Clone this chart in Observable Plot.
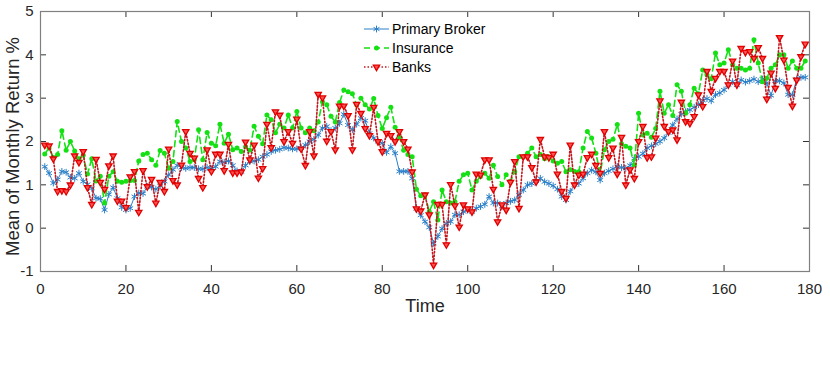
<!DOCTYPE html>
<html>
<head>
<meta charset="utf-8">
<script src="https://cdn.jsdelivr.net/npm/d3@7"></script>
<script src="https://cdn.jsdelivr.net/npm/@observablehq/plot@0.6"></script>
<style>
  html, body { margin: 0; padding: 0; background: white; }
  #wrap { position: relative; width: 830px; height: 367px; }
  #legend { position: absolute; left: 355px; top: 18px; }
</style>
</head>
<body>
<div id="wrap"><div id="chart"></div><div id="legend"></div></div>
<script>
// Time index 1..179
const primaryBroker = [1.42,1.27,1.04,1.12,1.31,1.29,1.17,1.15,1.27,1.08,1.01,0.92,0.69,0.68,0.42,0.78,0.94,0.69,0.48,0.42,
0.46,0.73,0.81,0.80,0.96,0.95,0.90,0.98,1.08,1.23,1.35,1.45,1.40,1.38,1.40,1.40,1.37,1.37,1.40,1.37,
1.42,1.54,1.52,1.55,1.45,1.32,1.30,1.45,1.54,1.55,1.58,1.65,1.70,1.77,1.80,1.82,1.86,1.85,1.83,1.83,
1.85,1.92,2.00,2.05,2.15,2.31,2.35,2.25,2.31,2.42,2.63,2.38,2.27,2.40,2.54,2.48,2.19,2.08,2.00,1.96,
1.75,1.88,1.73,1.31,1.31,1.31,1.15,0.45,0.30,0.15,0.02,-0.35,-0.19,-0.01,0.11,0.15,0.31,0.31,0.38,0.42,
0.38,0.46,0.50,0.55,0.73,0.58,0.58,0.50,0.58,0.62,0.65,0.77,0.88,1.00,1.03,1.09,1.15,1.07,1.03,0.98,
0.90,0.73,0.65,0.85,1.00,1.03,1.15,1.27,1.34,1.30,1.11,1.27,1.32,1.37,1.42,1.40,1.38,1.45,1.61,1.65,
1.72,1.85,1.90,1.95,2.00,2.08,2.20,2.38,2.52,2.63,2.69,2.73,2.79,2.85,2.95,2.99,2.94,3.08,3.12,3.19,
3.31,3.38,3.30,3.42,3.37,3.40,3.44,3.38,3.44,3.35,3.06,3.40,3.40,3.35,3.08,3.08,3.44,3.48,3.48];

const insurance = [1.71,1.85,1.63,1.70,2.25,1.80,2.00,1.78,1.60,1.68,1.25,1.60,1.09,1.20,0.58,1.20,1.30,1.08,1.06,1.08,
1.10,1.10,1.55,1.70,1.73,1.58,1.45,1.79,1.73,1.38,1.54,2.46,2.00,1.85,1.54,1.58,2.27,1.58,2.21,1.96,
1.90,2.40,1.96,2.17,1.81,1.85,1.77,1.88,1.80,2.35,2.12,1.95,2.61,2.50,2.20,2.40,2.31,2.61,2.31,2.69,
2.31,2.20,2.31,2.25,2.45,2.92,2.85,2.58,2.45,2.90,3.19,3.15,3.10,2.85,3.00,2.85,2.75,2.99,2.60,2.30,
2.55,2.79,2.33,2.10,1.80,1.70,1.65,0.90,0.75,0.77,0.38,0.61,0.19,0.88,0.61,0.58,0.61,1.08,1.23,1.27,
0.88,1.08,1.19,1.27,1.15,1.45,1.19,1.00,1.23,1.08,1.30,1.65,1.65,1.73,1.85,1.65,1.70,1.60,1.65,1.55,
1.50,1.54,1.30,1.35,1.31,1.30,1.85,2.23,2.08,1.73,1.27,1.81,2.00,2.05,2.39,1.95,1.89,1.85,1.46,2.65,
2.15,2.19,2.10,2.30,3.16,2.65,2.85,2.60,3.31,3.16,2.65,2.85,3.23,3.10,3.65,3.54,3.45,4.04,3.77,3.81,
4.12,3.77,3.69,3.69,3.65,3.69,4.35,3.81,3.38,3.46,3.69,3.77,4.00,4.00,3.69,3.86,3.69,3.69,3.86];

const banks = [1.92,1.90,1.60,0.85,0.87,0.85,1.00,1.67,1.52,1.77,0.94,0.55,1.59,1.06,0.90,1.44,1.67,0.63,0.63,0.48,
1.19,1.31,0.37,1.33,0.96,1.13,0.58,1.06,0.85,1.83,1.10,1.00,1.46,2.23,1.73,1.62,1.15,0.94,1.81,1.31,
1.71,1.71,1.33,1.94,1.28,1.28,1.30,1.99,1.58,1.92,1.16,1.38,2.40,1.86,2.69,2.61,2.00,2.23,1.96,2.52,
1.83,1.45,2.23,1.67,3.09,3.01,2.01,2.23,1.81,2.82,2.82,2.60,1.81,2.86,2.65,2.30,2.14,2.79,2.00,1.77,
2.19,2.14,2.00,2.23,2.00,1.83,1.30,0.45,0.40,0.77,0.31,-0.85,0.55,0.55,-0.38,1.01,0.52,0.03,0.54,0.45,
0.38,1.25,1.23,1.58,1.58,0.90,0.15,0.54,0.42,1.06,1.54,0.46,1.65,1.65,1.40,1.07,2.05,1.65,1.63,1.71,
1.25,0.85,0.69,1.92,1.00,1.23,1.25,1.63,1.71,1.45,1.27,2.23,1.63,1.85,1.25,2.10,1.00,1.35,1.15,2.00,
2.35,1.63,1.65,2.08,2.94,2.35,2.23,2.27,2.04,2.91,2.46,2.42,2.58,3.08,2.81,3.62,3.16,3.46,3.62,3.62,
3.31,3.86,3.31,4.15,4.06,4.08,3.92,4.17,3.92,2.98,3.58,3.23,4.40,3.88,3.25,2.82,3.42,3.96,4.25];

const xTicks = [0,20,40,60,80,100,120,140,160,180];
const yTicks = [-1,0,1,2,3,4,5];
const seriesNames = ["Primary Broker","Insurance","Banks"];

const data = primaryBroker.map((v, i) => ({t: i + 1, pb: v, ins: insurance[i], bk: banks[i]}));

const BLUE = "#2b7fc7", GREEN = "#14e014", RED_LINE = "#c3161c", RED_FILL = "#ff5050", RED_EDGE = "#e00000";
const AXIS = "#808080";

const downTriangle = {
  draw(context, size) {
    const r = Math.sqrt(size / Math.PI) * 1.3;
    context.moveTo(0, r);
    context.lineTo(-r * 0.866, -r * 0.5);
    context.lineTo(r * 0.866, -r * 0.5);
    context.closePath();
  }
};

const W = 830, H = 367, ML = 40, MR = 21, MT = 11, MB = 96;
const fw = W - ML - MR, fh = H - MT - MB, TL = 6;

const chart = Plot.plot({
  width: W, height: H,
  marginLeft: ML, marginRight: MR, marginTop: MT, marginBottom: MB,
  style: {fontFamily: "'Liberation Sans', Arial, Helvetica, sans-serif", fontSize: "15px", color: "#262626", background: "white"},
  x: {domain: [0, 180]},
  y: {domain: [-1, 5]},
  marks: [
    Plot.axisX({ticks: xTicks, tickSize: 0, tickPadding: 12, tickFormat: d => String(d), label: null}),
    Plot.axisY({ticks: yTicks, tickSize: 0, tickPadding: 7, tickFormat: d => String(d), label: null}),
    Plot.tickX(xTicks.slice(1, -1), {x: d => d, insetTop: fh - TL, stroke: "#333", strokeWidth: 1}),
    Plot.tickX(xTicks.slice(1, -1), {x: d => d, insetBottom: fh - TL, stroke: "#333", strokeWidth: 1}),
    Plot.tickY(yTicks.slice(1, -1), {y: d => d, insetRight: fw - TL, stroke: "#333", strokeWidth: 1}),
    Plot.tickY(yTicks.slice(1, -1), {y: d => d, insetLeft: fw - TL, stroke: "#333", strokeWidth: 1}),
    Plot.line(data, {x: "t", y: "pb", stroke: BLUE, strokeWidth: 1}),
    Plot.dot(data, {x: "t", y: "pb", symbol: "asterisk", r: 3.2, stroke: BLUE, strokeWidth: 1}),
    Plot.line(data, {x: "t", y: "ins", stroke: GREEN, strokeWidth: 1.6, strokeDasharray: "6,4"}),
    Plot.dot(data, {x: "t", y: "ins", r: 2.5, fill: GREEN, stroke: "none"}),
    Plot.line(data, {x: "t", y: "bk", stroke: RED_LINE, strokeWidth: 1.6, strokeDasharray: "1.5,2"}),
    Plot.dot(data, {x: "t", y: "bk", symbol: downTriangle, r: 2.8, fill: RED_FILL, stroke: RED_EDGE, strokeWidth: 1.3}),
    Plot.frame({stroke: AXIS, strokeWidth: 1.2}),
    Plot.text(["Time"], {frameAnchor: "bottom", dy: 40, fontSize: 18, fill: "#262626"}),
    Plot.text(["Mean of Monthly Return %"], {frameAnchor: "left", textAnchor: "middle", rotate: -90, dx: -27, dy: 5, fontSize: 18.5, fill: "#262626"})
  ]
});
document.getElementById("chart").appendChild(chart);

// Legend (inside the axes, no box), drawn as a small overlay
const lg = d3.select("#legend").append("svg").attr("width", 180).attr("height", 62)
  .style("font-family", "'Liberation Sans', Arial, Helvetica, sans-serif").style("font-size", "14px");
const rows = [
  {name: seriesNames[0], stroke: BLUE, dash: null, w: 1, sym: "ast"},
  {name: seriesNames[1], stroke: GREEN, dash: "6,4", w: 1.6, sym: "dot"},
  {name: seriesNames[2], stroke: RED_LINE, dash: "1.5,2", w: 1.6, sym: "tri"}
];
rows.forEach((r, i) => {
  const y = 11 + i * 19;
  const g = lg.append("g");
  g.append("line").attr("x1", 9).attr("x2", 34).attr("y1", y).attr("y2", y)
    .attr("stroke", r.stroke).attr("stroke-width", r.w).attr("stroke-dasharray", r.dash);
  if (r.sym === "ast") {
    g.append("path").attr("d", d3.symbol(d3.symbolAsterisk, Math.PI * 3.2 * 3.2)()).attr("transform", `translate(21.5,${y})`)
      .attr("fill", "none").attr("stroke", BLUE);
  } else if (r.sym === "dot") {
    g.append("circle").attr("cx", 21.5).attr("cy", y).attr("r", 2.5).attr("fill", GREEN);
  } else {
    g.append("path").attr("d", d3.symbol(downTriangle, Math.PI * 2.8 * 2.8)()).attr("transform", `translate(21.5,${y})`)
      .attr("fill", RED_FILL).attr("stroke", RED_EDGE).attr("stroke-width", 1.3);
  }
  g.append("text").attr("x", 37).attr("y", y).attr("dy", "0.35em").attr("fill", "#000").text(r.name);
});
</script>
</body>
</html>
